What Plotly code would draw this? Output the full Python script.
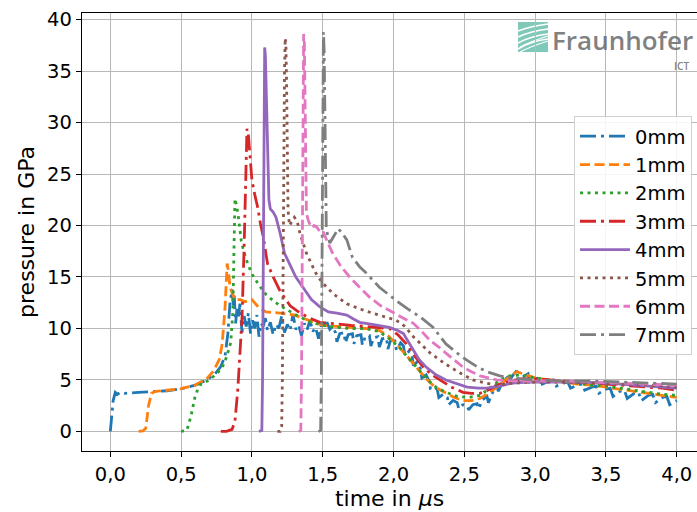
import plotly.graph_objects as go

# ---------------- data (time in µs, pressure in GPa) ----------------
series_names = ["0mm", "1mm", "2mm", "3mm", "4mm", "5mm", "6mm", "7mm"]
series_colors = ["#1f77b4", "#ff7f0e", "#2ca02c", "#d62728",
                 "#9467bd", "#8c564b", "#e377c2", "#7f7f7f"]

mm0 = [(0.0, 0.0), (0.02, 3.0), (0.035, 3.8), (0.05, 3.6), (0.07, 3.8), (0.1, 3.7), (0.2, 3.8),
       (0.3, 3.85), (0.4, 3.95), (0.5, 4.15), (0.6, 4.5), (0.68, 5.0), (0.74, 5.6), (0.78, 6.3),
       (0.81, 7.3), (0.83, 9.5), (0.845, 12.5), (0.86, 13.8), (0.87, 12.0), (0.875, 13.2),
       (0.885, 10.5), (0.895, 12.0), (0.905, 11.0), (0.915, 12.4), (0.93, 9.6), (0.945, 11.2),
       (0.96, 10.2), (0.975, 11.5), (0.99, 9.5), (1.005, 10.8), (1.02, 10.0), (1.035, 11.3),
       (1.05, 9.2), (1.065, 10.5), (1.08, 10.2), (1.095, 11.0), (1.11, 9.8), (1.13, 10.6),
       (1.15, 9.4), (1.17, 10.4), (1.19, 10.0), (1.21, 11.2), (1.23, 9.6), (1.25, 10.4),
       (1.27, 9.8), (1.29, 11.4), (1.31, 9.9), (1.33, 10.3), (1.35, 9.3), (1.37, 10.5),
       (1.39, 9.9), (1.41, 10.8), (1.43, 9.7), (1.45, 10.1), (1.47, 9.0), (1.49, 10.3),
       (1.51, 10.0), (1.53, 10.6), (1.55, 9.9), (1.57, 10.2), (1.59, 9.6), (1.6, 8.7),
       (1.62, 9.5), (1.65, 9.6), (1.66, 8.6), (1.68, 9.4), (1.71, 9.5), (1.72, 8.5), (1.74, 9.3),
       (1.77, 9.4), (1.78, 8.4), (1.8, 9.2), (1.83, 9.3), (1.84, 8.3), (1.86, 9.1), (1.89, 9.2),
       (1.9, 8.2), (1.92, 9.0), (1.95, 9.1), (1.96, 8.0), (1.98, 8.9), (2.01, 8.8), (2.02, 7.9),
       (2.05, 8.6), (2.07, 8.3), (2.08, 7.4), (2.11, 7.8), (2.13, 7.4), (2.14, 6.4), (2.17, 6.8),
       (2.19, 6.1), (2.2, 5.2), (2.23, 5.5), (2.25, 4.9), (2.26, 4.2), (2.29, 4.4), (2.31, 4.0),
       (2.32, 3.3), (2.35, 3.6), (2.38, 3.3), (2.39, 2.6), (2.42, 3.0), (2.45, 2.8), (2.46, 2.2),
       (2.49, 2.6), (2.52, 2.5), (2.53, 2.1), (2.56, 2.6), (2.59, 2.7), (2.6, 2.2), (2.63, 3.1),
       (2.66, 3.4), (2.67, 2.8), (2.7, 3.8), (2.73, 4.4), (2.74, 3.9), (2.77, 4.8), (2.8, 5.2),
       (2.81, 4.7), (2.84, 5.4), (2.87, 5.9), (2.88, 5.0), (2.92, 5.3), (2.95, 5.6), (2.96, 4.8),
       (3.0, 5.1), (3.03, 5.2), (3.05, 4.6), (3.1, 4.9), (3.13, 5.0), (3.15, 4.4), (3.2, 4.7),
       (3.23, 4.8), (3.25, 4.2), (3.3, 4.5), (3.33, 4.6), (3.35, 4.0), (3.4, 4.3), (3.43, 4.4),
       (3.45, 3.7), (3.5, 4.1), (3.53, 4.2), (3.55, 3.4), (3.6, 3.9), (3.63, 4.0), (3.65, 3.2),
       (3.7, 3.7), (3.73, 3.8), (3.75, 3.0), (3.8, 3.5), (3.83, 3.6), (3.85, 2.8), (3.9, 3.3),
       (3.93, 3.4), (3.95, 2.6), (4.0, 3.0)]

mm1 = [(0.2, 0.0), (0.23, 0.05), (0.25, 0.3), (0.27, 2.5), (0.29, 3.7), (0.32, 3.9), (0.4, 4.0),
       (0.5, 4.15), (0.6, 4.5), (0.68, 5.1), (0.73, 5.9), (0.77, 7.0), (0.79, 8.5), (0.81, 12.0),
       (0.825, 16.3), (0.835, 15.5), (0.845, 14.0), (0.86, 13.5), (0.88, 12.8), (0.92, 12.8),
       (0.95, 12.6), (1.0, 12.8), (1.05, 12.0), (1.1, 11.6), (1.2, 11.5), (1.3, 11.3),
       (1.4, 10.8), (1.5, 10.3), (1.6, 10.2), (1.7, 10.1), (1.8, 10.0), (1.9, 9.8), (1.96, 9.3),
       (2.02, 8.5), (2.08, 7.6), (2.14, 6.6), (2.2, 5.6), (2.26, 4.7), (2.32, 4.1), (2.37, 3.7),
       (2.43, 3.3), (2.49, 3.0), (2.55, 3.0), (2.61, 3.2), (2.67, 3.7), (2.73, 4.3), (2.8, 5.1),
       (2.87, 5.8), (2.93, 5.5), (3.0, 5.2), (3.1, 5.0), (3.2, 4.8), (3.3, 4.6), (3.4, 4.5),
       (3.5, 4.3), (3.6, 4.1), (3.7, 3.9), (3.8, 3.7), (3.9, 3.5), (4.0, 3.3)]

mm2 = [(0.5, 0.0), (0.54, 0.1), (0.57, 1.5), (0.6, 3.5), (0.63, 4.5), (0.7, 5.0), (0.75, 5.6),
       (0.79, 6.2), (0.82, 7.2), (0.85, 8.6), (0.865, 11.5), (0.875, 17.0), (0.88, 22.6),
       (0.89, 22.0), (0.9, 21.3), (0.91, 20.2), (0.925, 18.5), (0.94, 17.6), (0.97, 16.3),
       (1.0, 15.3), (1.05, 14.2), (1.1, 13.3), (1.15, 12.7), (1.2, 12.2), (1.3, 11.4),
       (1.4, 10.7), (1.5, 10.3), (1.6, 10.1), (1.7, 10.0), (1.8, 10.0), (1.9, 9.7), (1.97, 9.0),
       (2.04, 8.2), (2.1, 7.2), (2.15, 6.4), (2.2, 5.7), (2.25, 4.9), (2.3, 4.3), (2.37, 3.8),
       (2.45, 3.4), (2.53, 3.3), (2.61, 3.5), (2.68, 4.2), (2.75, 5.0), (2.82, 5.4), (2.9, 5.5),
       (3.0, 5.2), (3.1, 5.0), (3.2, 4.8), (3.3, 4.7), (3.4, 4.5), (3.5, 4.4), (3.6, 4.2),
       (3.7, 4.0), (3.8, 3.8), (3.9, 3.6), (4.0, 3.5)]

mm3 = [(0.78, 0.0), (0.82, 0.0), (0.86, 0.2), (0.88, 1.0), (0.9, 4.0), (0.915, 7.5), (0.93, 11.0),
       (0.945, 18.0), (0.955, 25.0), (0.965, 29.4), (0.975, 28.8), (0.985, 27.0), (1.0, 24.4),
       (1.02, 23.0), (1.04, 21.8), (1.06, 20.2), (1.08, 18.9), (1.11, 16.3), (1.15, 15.0),
       (1.2, 13.6), (1.27, 12.2), (1.34, 11.5), (1.41, 11.0), (1.48, 10.6), (1.6, 10.4),
       (1.7, 10.3), (1.8, 10.2), (1.9, 10.1), (1.97, 10.0), (2.03, 9.4), (2.09, 8.5), (2.15, 7.3),
       (2.21, 6.25), (2.27, 5.5), (2.33, 5.0), (2.41, 4.3), (2.49, 3.8), (2.55, 3.7), (2.61, 3.7),
       (2.68, 4.1), (2.75, 4.6), (2.82, 4.9), (2.9, 5.1), (3.0, 5.1), (3.1, 5.0), (3.2, 4.9),
       (3.3, 4.8), (3.4, 4.7), (3.5, 4.6), (3.6, 4.5), (3.7, 4.4), (3.8, 4.3), (3.9, 4.2),
       (4.0, 4.0)]

mm4 = [(1.05, 0.0), (1.07, 0.1), (1.075, 5.0), (1.08, 20.0), (1.085, 33.0), (1.09, 37.3),
       (1.095, 36.5), (1.1, 34.1), (1.105, 30.0), (1.11, 27.0), (1.12, 22.5), (1.13, 21.6),
       (1.15, 21.3), (1.17, 20.8), (1.2, 19.2), (1.23, 17.3), (1.27, 16.2), (1.31, 15.0),
       (1.36, 14.0), (1.42, 12.8), (1.48, 12.1), (1.54, 11.6), (1.6, 11.5), (1.67, 11.3),
       (1.72, 10.9), (1.76, 10.6), (1.85, 10.4), (1.97, 10.1), (2.03, 9.8), (2.07, 9.5),
       (2.1, 8.8), (2.14, 7.9), (2.18, 7.0), (2.23, 6.25), (2.3, 5.5), (2.37, 5.0), (2.45, 4.6),
       (2.52, 4.3), (2.6, 4.2), (2.66, 4.2), (2.75, 4.4), (2.84, 4.7), (2.95, 4.8), (3.1, 4.8),
       (3.3, 4.8), (3.5, 4.7), (3.7, 4.5), (3.85, 4.4), (4.0, 4.2)]

mm5 = [(1.18, 0.0), (1.2, 0.0), (1.21, 0.5), (1.215, 5.0), (1.22, 15.0), (1.225, 28.0),
       (1.23, 35.0), (1.235, 38.2), (1.24, 37.5), (1.245, 33.5), (1.25, 28.0), (1.255, 21.5),
       (1.265, 20.0), (1.28, 20.3), (1.3, 20.8), (1.32, 20.4), (1.34, 19.2), (1.385, 17.3),
       (1.41, 16.6), (1.45, 15.4), (1.5, 14.4), (1.58, 13.3), (1.67, 12.4), (1.76, 11.9),
       (1.85, 11.5), (1.95, 11.1), (2.02, 10.8), (2.08, 10.2), (2.14, 9.2), (2.2, 8.4),
       (2.26, 7.6), (2.33, 6.9), (2.4, 6.25), (2.48, 5.6), (2.56, 5.0), (2.65, 4.7), (2.73, 4.5),
       (2.85, 4.7), (3.0, 4.8), (3.2, 4.8), (3.4, 4.7), (3.6, 4.6), (3.8, 4.5), (4.0, 4.3)]

mm6 = [(1.33, 0.0), (1.345, 0.1), (1.35, 5.0), (1.355, 20.0), (1.36, 33.0), (1.365, 38.6),
       (1.37, 38.0), (1.375, 33.0), (1.38, 26.0), (1.385, 21.2), (1.4, 20.4), (1.42, 19.8),
       (1.44, 20.0), (1.46, 19.8), (1.48, 19.4), (1.5, 19.5), (1.53, 18.5), (1.57, 17.3),
       (1.63, 16.0), (1.69, 15.0), (1.76, 14.0), (1.83, 13.05), (1.91, 12.2), (2.0, 11.5),
       (2.07, 11.0), (2.14, 10.5), (2.2, 9.7), (2.26, 8.8), (2.32, 8.2), (2.37, 7.6), (2.43, 6.9),
       (2.49, 6.25), (2.55, 5.8), (2.61, 5.4), (2.67, 5.2), (2.73, 5.0), (2.85, 4.9), (3.0, 4.9),
       (3.2, 4.9), (3.4, 4.8), (3.6, 4.7), (3.8, 4.6), (4.0, 4.5)]

mm7 = [(1.47, 0.0), (1.485, 0.1), (1.49, 5.0), (1.495, 20.0), (1.5, 34.0), (1.505, 38.8),
       (1.51, 37.0), (1.515, 30.0), (1.52, 24.0), (1.525, 19.9), (1.535, 19.0), (1.55, 18.3),
       (1.58, 19.0), (1.61, 19.7), (1.64, 19.2), (1.67, 18.6), (1.71, 16.9), (1.76, 16.0),
       (1.81, 15.35), (1.9, 14.0), (2.02, 12.7), (2.1, 11.9), (2.19, 11.1), (2.28, 10.1),
       (2.33, 9.2), (2.37, 8.5), (2.45, 7.6), (2.52, 6.9), (2.6, 6.2), (2.66, 5.8), (2.75, 5.4),
       (2.84, 5.15), (3.0, 5.0), (3.2, 4.9), (3.4, 4.9), (3.6, 4.8), (3.8, 4.7), (4.0, 4.6)]

x_tickvals = [0.0, 0.5, 1.0, 1.5, 2.0, 2.5, 3.0, 3.5, 4.0]
x_ticktext = ["0,0", "0,5", "1,0", "1,5", "2,0", "2,5", "3,0", "3,5", "4,0"]
y_tickvals = [0, 5, 10, 15, 20, 25, 30, 35, 40]

# ---------------- styles ----------------
DASHDOT = "16px,5px,3px,5px"
DASHED = "10px,4.5px"
DOTTED = "3px,4.5px"
dashes = [DASHDOT, DASHED, DOTTED, DASHDOT, "solid", DOTTED, DASHED, DASHDOT]
FONT = "DejaVu Sans"
FS = 19.5
FS_TITLE = 22

fig = go.Figure()
for name, color, dash, data in zip(series_names, series_colors, dashes,
                                   [mm0, mm1, mm2, mm3, mm4, mm5, mm6, mm7]):
    t = [d[0] for d in data]
    p = [d[1] for d in data]
    fig.add_trace(go.Scatter(x=t, y=p, mode="lines", name=name,
                             line=dict(color=color, width=2.8, dash=dash)))

axis_common = dict(showgrid=True, gridcolor="#b8b8b8", gridwidth=1, zeroline=False,
                   showline=True, linecolor="black", linewidth=1.3,
                   ticks="outside", ticklen=5, tickwidth=1.2, tickcolor="black",
                   tickfont=dict(family=FONT, size=FS, color="black"))

L, R, T, B = 82, 0, 13, 61
W, H = 697, 512
PW, PH = W - L - R, H - T - B

fig.update_layout(
    width=W, height=H,
    margin=dict(l=L, r=R, t=T, b=B),
    paper_bgcolor="white", plot_bgcolor="white",
    font=dict(family=FONT, size=FS, color="black"),
    xaxis=dict(range=[-0.2, 4.143], tickvals=x_tickvals, ticktext=x_ticktext, mirror=True,
               title=dict(text="time in <i>μ</i>s", font=dict(family=FONT, size=FS_TITLE),
                          standoff=3),
               **axis_common),
    yaxis=dict(range=[-1.9, 40.64], tickvals=y_tickvals, mirror=False,
               title=dict(text="pressure in GPa", font=dict(family=FONT, size=FS_TITLE),
                          standoff=6),
               **axis_common),
    legend=dict(x=(692 - L) / PW, y=(H - B - 116) / PH, xanchor="right", yanchor="top",
                bgcolor="rgba(255,255,255,0.85)", bordercolor="#d0d0d0", borderwidth=1,
                font=dict(family=FONT, size=FS), tracegroupgap=0, itemwidth=50),
    showlegend=True,
)

# ---------------- Fraunhofer logo (pixel positions mapped to paper coords) ----------------
def px(x):
    return (x - L) / PW
def py(y):
    return (H - B - y) / PH

fig.add_shape(type="rect", xref="paper", yref="paper", layer="below",
              x0=px(518), x1=px(548), y0=py(52), y1=py(22),
              fillcolor="rgba(23,156,125,0.55)", line=dict(width=0))
for (a, b) in [(26, 31), (31, 37), (36, 43), (41, 49)]:
    path = f"M {px(518)} {py(b)} Q {px(531)} {py(a)} {px(548)} {py(a - 2)}"
    fig.add_shape(type="path", xref="paper", yref="paper", layer="below", path=path,
                  line=dict(color="white", width=1.6))
for a in [44, 49]:
    path = f"M {px(520)} {py(a + 3)} Q {px(532)} {py(a - 3)} {px(548)} {py(a - 8)}"
    fig.add_shape(type="path", xref="paper", yref="paper", layer="below", path=path,
                  line=dict(color="white", width=1.2))

fig.add_annotation(xref="paper", yref="paper", x=px(695), y=py(40), xanchor="right",
                   yanchor="middle", showarrow=False, text="Fraunhofer",
                   font=dict(family="Open Sans", size=26, color="rgba(105,105,105,0.85)",
                             weight=600))
fig.add_annotation(xref="paper", yref="paper", x=px(691), y=py(66), xanchor="right",
                   yanchor="middle", showarrow=False, text="ICT",
                   font=dict(family="Open Sans", size=10, color="rgba(105,105,105,0.85)",
                             weight=600))

fig.write_html("out.html")
